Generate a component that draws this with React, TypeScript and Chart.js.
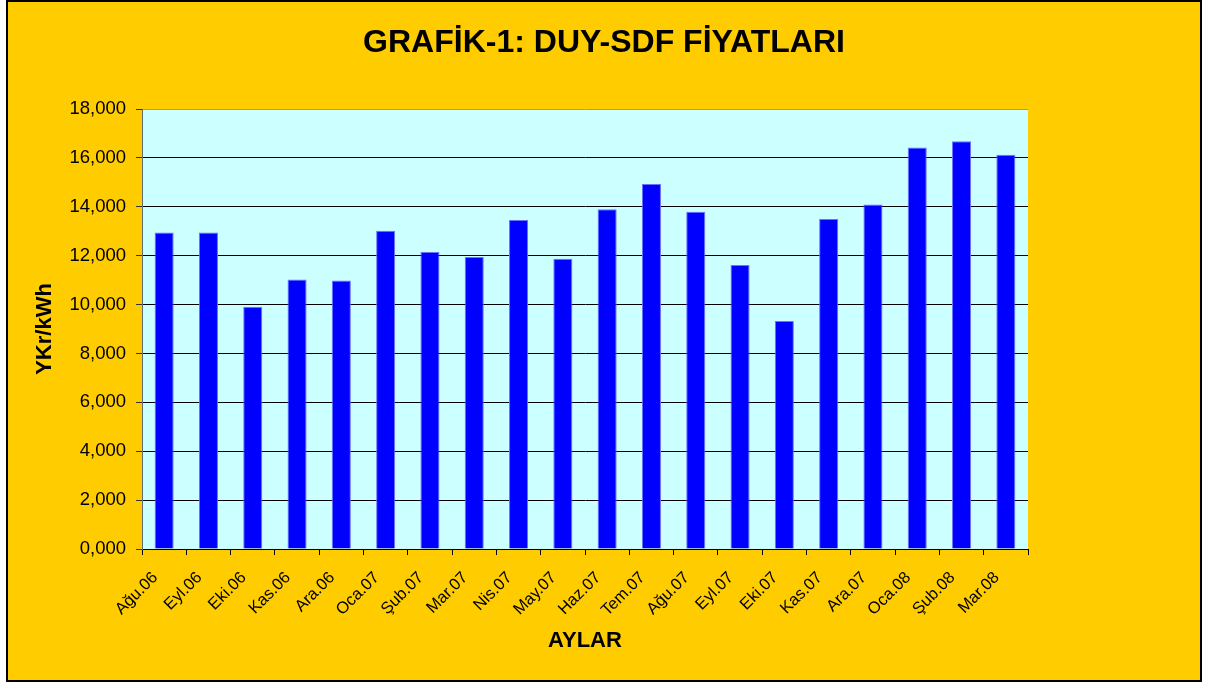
import React, { useEffect, useRef } from "react";
import { Chart, registerables } from "chart.js";

Chart.register(...registerables);

const CATEGORIES = [
  "Ağu.06", "Eyl.06", "Eki.06", "Kas.06", "Ara.06", "Oca.07", "Şub.07",
  "Mar.07", "Nis.07", "May.07", "Haz.07", "Tem.07", "Ağu.07", "Eyl.07",
  "Eki.07", "Kas.07", "Ara.07", "Oca.08", "Şub.08", "Mar.08",
];

const PRICES = [
  12.95, 12.95, 9.91, 11.03, 10.98, 13.02, 12.15,
  11.95, 13.46, 11.87, 13.9, 14.93, 13.8, 11.62,
  9.33, 13.5, 14.09, 16.43, 16.68, 16.13,
];

const Y_TICK_LABELS = [
  "0,000", "2,000", "4,000", "6,000", "8,000", "10,000",
  "12,000", "14,000", "16,000", "18,000",
];

const TITLE = "GRAFİK-1: DUY-SDF FİYATLARI";
const X_TITLE = "AYLAR";
const Y_TITLE = "YKr/kWh";

const FONT = "'Liberation Sans', Arial, Helvetica, sans-serif";
const W = 1192;
const H = 678;

const plotBg = {
  id: "plotBg",
  beforeDraw(chart: any) {
    const { ctx, chartArea } = chart;
    if (!chartArea) return;
    ctx.save();
    ctx.fillStyle = "#CCFFFF";
    ctx.fillRect(chartArea.left, chartArea.top, chartArea.right - chartArea.left, chartArea.bottom - chartArea.top);
    ctx.restore();
  },
};

export default function App() {
  const ref = useRef<HTMLCanvasElement | null>(null);

  useEffect(() => {
    if (!ref.current) return;
    const chart = new Chart(ref.current, {
      type: "bar",
      data: {
        labels: CATEGORIES,
        datasets: [
          {
            label: "DUY-SDF",
            data: PRICES,
            backgroundColor: "#0000FF",
            borderColor: "#6f6fff",
            borderWidth: 1,
            categoryPercentage: 1,
            barPercentage: 0.43,
          },
        ],
      },
      options: {
        responsive: false,
        animation: false,
        devicePixelRatio: 1,
        layout: { padding: 0 },
        plugins: {
          legend: { display: false },
          tooltip: { enabled: false },
          title: {
            display: true,
            text: TITLE,
            color: "#000",
            font: { family: FONT, size: 32, weight: "bold" },
            padding: { top: 22, bottom: 46.6 },
          },
        },
        scales: {
          x: {
            type: "category",
            offset: true,
            grid: {
              offset: true,
              drawOnChartArea: false,
              drawTicks: true,
              tickLength: 6,
              color: "#000",
            },
            border: { display: true, color: "#000", width: 1 },
            ticks: {
              autoSkip: false,
              minRotation: 45,
              maxRotation: 45,
              padding: 13,
              labelOffset: -9,
              color: "#000",
              font: { family: FONT, size: 16.5 },
            },
            title: {
              display: true,
              text: X_TITLE,
              color: "#000",
              font: { family: FONT, size: 22, weight: "bold" },
              padding: { top: 0, bottom: 26 },
            },
            afterFit(s: any) {
              s.height = 131;
            },
          },
          y: {
            type: "linear",
            position: "left",
            min: 0,
            max: 18,
            ticks: {
              stepSize: 2,
              padding: 10,
              color: "#000",
              font: { family: FONT, size: 18.5 },
              callback: (_v: any, i: number) => Y_TICK_LABELS[i],
            },
            grid: {
              drawOnChartArea: true,
              drawTicks: true,
              tickLength: 6,
              color: (c: any) => (c.tick && c.tick.value === 18 ? "#8fa39b" : "#000"),
              tickColor: "#333",
              lineWidth: 1,
            },
            border: { display: true, color: "#5f6f6f", width: 1 },
            title: {
              display: true,
              text: Y_TITLE,
              color: "#000",
              font: { family: FONT, size: 22, weight: "bold" },
              padding: { top: 24, bottom: 0 },
            },
            afterFit(s: any) {
              s.width = 134;
            },
          },
          yr: {
            type: "linear",
            position: "right",
            display: true,
            grid: { display: false, drawTicks: false },
            border: { display: false },
            ticks: { display: false },
            afterFit(s: any) {
              s.width = 172;
            },
          },
        },
      },
      plugins: [plotBg],
    } as any);
    return () => chart.destroy();
  }, []);

  return (
    <div
      style={{
        position: "absolute",
        left: 6,
        top: 0,
        width: 1196,
        height: 682,
        boxSizing: "border-box",
        border: "2px solid #000",
        background: "#FFCC00",
      }}
    >
      <canvas ref={ref} width={W} height={H} style={{ display: "block", width: W, height: H }} />
    </div>
  );
}
